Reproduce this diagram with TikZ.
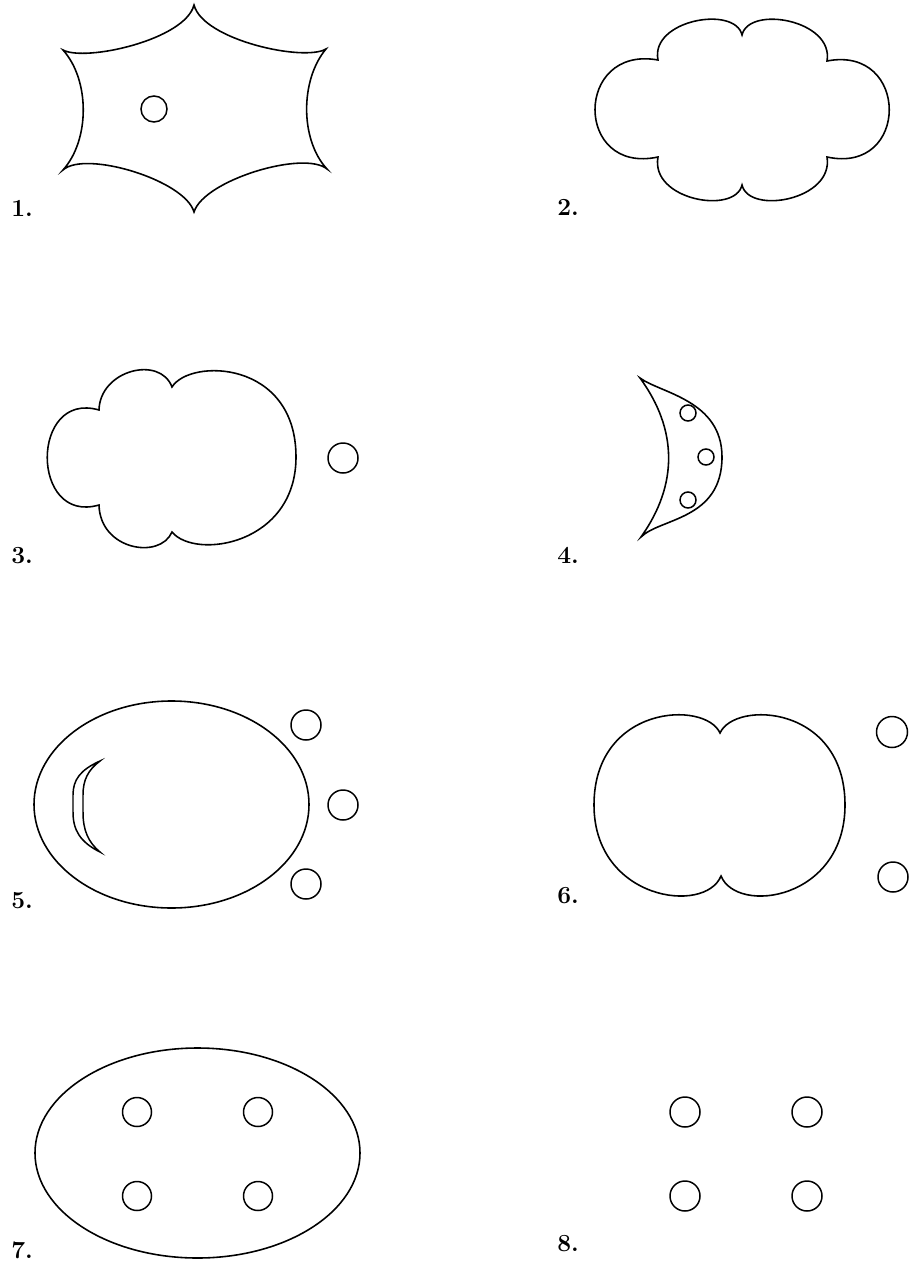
\documentclass[tikz,border=0pt]{standalone}
\tikzset{
  cellwall/.style={draw=black, line width=0.9pt},
  nucleus/.style={draw=black, line width=0.85pt},
  steplabel/.style={font=\fontsize{14}{16}\selectfont\bfseries, anchor=base west, inner sep=0pt}
}
\begin{document}
\begin{tikzpicture}[x=0.02cm, y=-0.02cm]
  \useasboundingbox (0,0) rectangle (911,1267);

  % Stage 1
  \draw[cellwall] (194,5) .. controls (203,40) and (304,62) .. (326,49)
    .. controls (300,80) and (300,140) .. (327,169)
    .. controls (304,150) and (204,180) .. (194,212)
    .. controls (185,180) and (85,150) .. (63,170)
    .. controls (90,140) and (90,80) .. (63,50)
    .. controls (85,62) and (185,40) .. cycle;
  \draw[nucleus] (154,109) circle[radius=13];
  \node[steplabel] (lab1) at (11,216) {1.};

  % Stage 2
  \draw[cellwall] (742,35) .. controls (749,5) and (834,20) .. (827,61)
    .. controls (910,45) and (910,175) .. (827,157)
    .. controls (834,200) and (749,215) .. (742,185)
    .. controls (735,215) and (650,200) .. (658,157)
    .. controls (574,175) and (574,45) .. (658,60)
    .. controls (650,20) and (735,5) .. cycle;
  \node[steplabel] (lab2) at (557,215) {2.};

  % Stage 3
  \draw[cellwall] (172,387) .. controls (190,358) and (296,360) .. (296,457)
    .. controls (296,545) and (195,560) .. (172,532)
    .. controls (160,560) and (100,550) .. (99,505)
    .. controls (30,525) and (30,390) .. (99,410)
    .. controls (100,370) and (160,355) .. cycle;
  \draw[nucleus] (343,458) circle[radius=15];
  \node[steplabel] (lab3) at (11,563) {3.};

  % Stage 4
  \draw[cellwall] (640,378) .. controls (660,393) and (722,400) .. (722,457)
    .. controls (722,520) and (660,518) .. (641,537)
    .. controls (678,485) and (678,430) .. cycle;
  \draw[nucleus] (688,413) circle[radius=8];
  \draw[nucleus] (706,457) circle[radius=8];
  \draw[nucleus] (688,500) circle[radius=8];
  \node[steplabel] (lab4) at (557,563) {4.};

  % Stage 5
  \draw[cellwall] (171.5,804.5) ellipse[x radius=137.5, y radius=103.5];
  \draw[nucleus] (100,761) .. controls (80,770) and (73,780) .. (73,795)
    -- (73,812) .. controls (73,830) and (80,842) .. (100,852)
    .. controls (88,842) and (83,830) .. (83,812)
    -- (83,795) .. controls (83,780) and (88,770) .. cycle;
  \draw[nucleus] (306,725) circle[radius=15];
  \draw[nucleus] (343,805) circle[radius=15];
  \draw[nucleus] (306,884) circle[radius=15];
  \node[steplabel] (lab5) at (11,908) {5.};

  % Stage 6
  \draw[cellwall] (720,733) .. controls (705,700) and (594,705) .. (594,805)
    .. controls (594,900) and (705,915) .. (721,876)
    .. controls (737,915) and (845,900) .. (845,805)
    .. controls (845,705) and (735,700) .. cycle;
  \draw[nucleus] (892,732) circle[radius=15.5];
  \draw[nucleus] (893,877) circle[radius=15];
  \node[steplabel] (lab6) at (557,903) {6.};

  % Stage 7
  \draw[cellwall] (197.5,1153) ellipse[x radius=162.5, y radius=105];
  \draw[nucleus] (137,1112) circle[radius=14.5];
  \draw[nucleus] (258,1112) circle[radius=14.5];
  \draw[nucleus] (137,1196) circle[radius=14.5];
  \draw[nucleus] (258,1196) circle[radius=14.5];
  \node[steplabel] (lab7) at (11,1258) {7.};

  % Stage 8
  \draw[nucleus] (685,1112) circle[radius=15];
  \draw[nucleus] (807,1112) circle[radius=15];
  \draw[nucleus] (685,1196) circle[radius=15];
  \draw[nucleus] (807,1196) circle[radius=15];
  \node[steplabel] (lab8) at (557,1251) {8.};

\end{tikzpicture}
\end{document}
